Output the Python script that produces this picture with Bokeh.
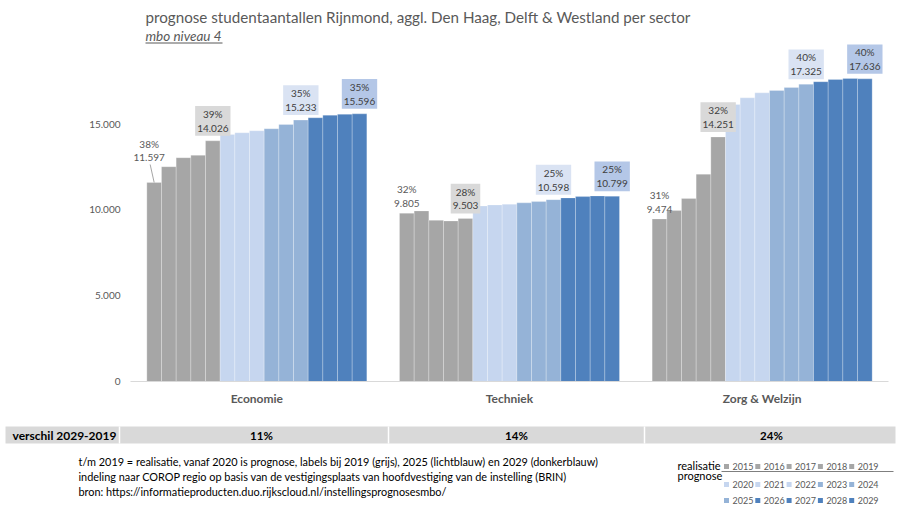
from bokeh.plotting import figure
from bokeh.models import Range1d, FixedTicker, ColumnDataSource
from bokeh.layouts import column
from bokeh.transform import dodge
from bokeh.core.properties import value
from bokeh.embed import file_html
from bokeh.resources import INLINE

# ---------------- data ----------------
sectors = ["Economie", "Techniek", "Zorg & Welzijn"]
years = ["2015", "2016", "2017", "2018", "2019", "2020", "2021", "2022",
         "2023", "2024", "2025", "2026", "2027", "2028", "2029"]
economie = [11597, 12517, 13041, 13180, 14026, 14400, 14494, 14610,
            14728, 14980, 15233, 15370, 15520, 15570, 15596]
techniek = [9805, 9940, 9393, 9355, 9503, 10232, 10290, 10330,
            10410, 10485, 10598, 10700, 10775, 10815, 10799]
zorg = [9474, 9960, 10660, 12080, 14251, 16140, 16530, 16820,
        16960, 17135, 17325, 17470, 17600, 17660, 17636]
share_2015 = ["38%", "32%", "31%"]
share_2019 = ["39%", "28%", "32%"]
share_2025 = ["35%", "25%", "40%"]
share_2029 = ["35%", "25%", "40%"]
verschil = ["11%", "14%", "24%"]
y_ticks = [0, 5000, 10000, 15000]
y_tick_labels = ["0", "5.000", "10.000", "15.000"]

title_text = "prognose studentaantallen Rijnmond, aggl. Den Haag, Delft & Westland per sector"
subtitle_text = "mbo niveau 4"
notes = [
    "t/m 2019 = realisatie, vanaf 2020 is prognose, labels  bij 2019 (grijs), 2025 (lichtblauw) en 2029 (donkerblauw)",
    "indeling naar COROP regio op basis van de vestigingsplaats van hoofdvestiging van de instelling (BRIN)",
    "bron: https://informatieproducten.duo.rijkscloud.nl/instellingsprognosesmbo/",
]

# ---------------- style ----------------
FONT = "Lato"
GREY, LIGHT, MID, DARK = "#a6a6a6", "#c6d6ef", "#95b3d7", "#4f81bd"
year_colors = [GREY] * 5 + [LIGHT] * 3 + [MID] * 3 + [DARK] * 4
TXT = "#595959"
W = 899
TOP_H = 44
MAIN_H = 371
BOT_H = 90
BORDER_L, BORDER_R, BORDER_B = 130, 11, 34
FRAME_H = MAIN_H - BORDER_B
PX_PER_UNIT = 85.8 / 5000
Y_END = FRAME_H / PX_PER_UNIT
CAT_PX = (W - BORDER_L - BORDER_R) / len(sectors)
GROUP = 220 / CAT_PX
BW = GROUP / len(years)


def off(i):
    return (i - (len(years) - 1) / 2) * BW


def fmt(v):
    return f"{v:,}".replace(",", ".")


# ---------------- main chart ----------------
data = {"sector": sectors}
for i, yr in enumerate(years):
    data["y" + yr] = [economie[i], techniek[i], zorg[i]]
src = ColumnDataSource(data)

p = figure(x_range=sectors, y_range=Range1d(0, Y_END), width=W, height=MAIN_H,
           output_backend="svg", toolbar_location=None,
           min_border_left=BORDER_L, min_border_right=BORDER_R, min_border_top=0,
           min_border_bottom=BORDER_B, frame_align=False)
p.outline_line_color = None
p.grid.grid_line_color = None

for i, yr in enumerate(years):
    p.vbar(x=dodge("sector", off(i), range=p.x_range), top="y" + yr, width=BW,
           source=src, fill_color=year_colors[i], line_color="white",
           line_alpha=0.3, line_width=0.8)


def label_source(yr, shares):
    i = years.index(yr)
    vals = [economie[i], techniek[i], zorg[i]]
    return i, ColumnDataSource(dict(
        sector=sectors, v=vals,
        t=[f"{s}\n{fmt(v)}" for s, v in zip(shares, vals)]))


# 2015 labels (no box), Economie moved up with leader line
i15, s15 = label_source("2015", share_2015)
s15.data["dx"] = [-5, 0, 0]
s15.data["dy"] = [-19, -4, -4]
p.text(x=dodge("sector", off(i15), range=p.x_range), y="v", text="t", source=s15,
       x_offset="dx", y_offset="dy", text_align="center", text_baseline="bottom",
       text_font=value(FONT), text_font_size="10px",
       text_color=TXT, text_line_height=1.15)
lead = ColumnDataSource(dict(sector=[sectors[0]], v=[economie[i15]],
                             v2=[economie[i15] + 18 / PX_PER_UNIT]))
p.segment(x0=dodge("sector", off(i15), range=p.x_range), y0="v",
          x1=dodge("sector", off(i15) - 4 / CAT_PX, range=p.x_range), y1="v2",
          source=lead, line_color=GREY, line_width=1)

for yr, shares, bg in [("2019", share_2019, "#d9d9d9"),
                       ("2025", share_2025, "#dae3f3"),
                       ("2029", share_2029, "#b4c7e7")]:
    i, s = label_source(yr, shares)
    p.text(x=dodge("sector", off(i), range=p.x_range), y="v", text="t", source=s,
           y_offset=-5, text_align="center", text_baseline="bottom",
           text_font=value(FONT), text_font_size="10px", text_color="#404040",
           text_line_height=1.15, background_fill_color=bg, padding=2)

p.yaxis.ticker = FixedTicker(ticks=y_ticks)
p.yaxis.major_label_overrides = {t: l for t, l in zip(y_ticks, y_tick_labels)}
p.yaxis.axis_line_color = None
p.yaxis.major_tick_line_color = None
p.yaxis.major_tick_out = 0
p.yaxis.minor_tick_line_color = None
p.yaxis.major_label_text_font = FONT
p.yaxis.major_label_text_font_size = "10px"
p.yaxis.major_label_text_color = TXT
p.yaxis.major_label_standoff = 10

p.xaxis.axis_line_color = "#d9d9d9"
p.xaxis.major_tick_line_color = None
p.xaxis.major_tick_out = 0
p.xaxis.major_label_text_font = FONT
p.xaxis.major_label_text_font_size = "12px"
p.xaxis.major_label_text_font_style = "bold"
p.xaxis.major_label_text_color = TXT
p.xaxis.major_label_standoff = 9

# ---------------- title strip ----------------
t = figure(width=W, height=TOP_H, x_range=Range1d(0, W), y_range=Range1d(TOP_H, 0),
           output_backend="svg", toolbar_location=None, x_axis_location=None,
           y_axis_location=None, min_border=0, frame_align=False)
t.outline_line_color = None
t.grid.grid_line_color = None
t.text(x=[145], y=[16], text=[title_text], text_font=value(FONT),
       text_font_size="15.2px", text_color=TXT, text_baseline="middle")
t.text(x=[145], y=[35], text=[subtitle_text], text_font=value(FONT),
       text_font_size="13.5px", text_font_style="italic", text_color=TXT,
       text_baseline="middle")
t.segment(x0=[145], y0=[42.5], x1=[222], y1=[42.5], line_color=TXT, line_width=1)

# ---------------- bottom strip ----------------
b = figure(width=W, height=BOT_H, x_range=Range1d(0, W), y_range=Range1d(BOT_H, 0),
           output_backend="svg", toolbar_location=None, x_axis_location=None,
           y_axis_location=None, min_border=0, frame_align=False)
b.outline_line_color = None
b.grid.grid_line_color = None
b.quad(left=[5], right=[895], top=[11], bottom=[28], fill_color="#d9d9d9", line_color=None)
b.segment(x0=[119, 388, 644], y0=[11] * 3, x1=[119, 388, 644], y1=[28] * 3,
          line_color="white", line_width=1.5)
b.text(x=[12], y=[19.5], text=["verschil 2029-2019"], text_font=value(FONT),
       text_font_size="12px", text_font_style="bold", text_color="#000000",
       text_baseline="middle")
b.text(x=[261, 516, 771], y=[19.5] * 3, text=verschil, text_font=value(FONT),
       text_font_size="11.5px", text_font_style="bold", text_color="#000000",
       text_baseline="middle", text_align="center")
b.text(x=[78] * 3, y=[46, 61, 76], text=notes, text_font=value(FONT),
       text_font_size="10.9px", text_color="#000000", text_baseline="middle")

# legend
b.text(x=[677], y=[50], text=["realisatie"], text_font=value(FONT),
       text_font_size="11px", text_color="#000000", text_baseline="middle")
b.text(x=[677], y=[60], text=["prognose"], text_font=value(FONT),
       text_font_size="11px", text_color="#000000", text_baseline="middle")
b.segment(x0=[721], y0=[56], x1=[893], y1=[56], line_color="#7f7f7f", line_width=1)
row_y = [51, 69, 85]
lx, ly, lc, lt = [], [], [], []
for i, yr in enumerate(years):
    r, c = divmod(i, 5)
    lx.append(726 + 31.3 * c)
    ly.append(row_y[r])
    lc.append(year_colors[i])
    lt.append(yr)
leg = ColumnDataSource(dict(x=lx, y=ly, c=lc, t=lt, tx=[v + 6 for v in lx]))
b.rect(x="x", y="y", width=5, height=5, fill_color="c", line_color=None, source=leg)
b.text(x="tx", y="y", text="t", text_font=value(FONT), text_font_size="9px",
       text_color="#595959", text_baseline="middle", source=leg)

layout = column(t, p, b)
open("out.html", "w").write(file_html(layout, INLINE))
